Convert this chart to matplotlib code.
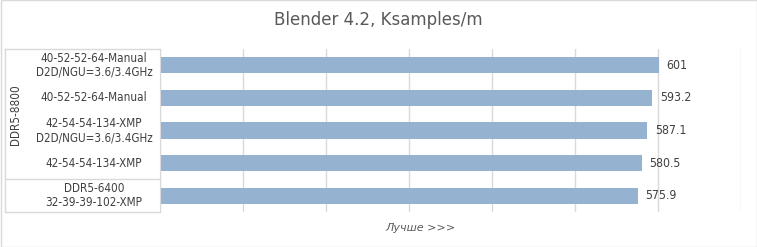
import numpy as np
import matplotlib.pyplot as plt
from matplotlib.patches import Rectangle

plt.rcParams['font.family'] = ['DejaVu Sans']

# top to bottom
labels = ["40-52-52-64-Manual\nD2D/NGU=3.6/3.4GHz",
          "40-52-52-64-Manual",
          "42-54-54-134-XMP\nD2D/NGU=3.6/3.4GHz",
          "42-54-54-134-XMP",
          "DDR5-6400\n32-39-39-102-XMP"]
values = [601, 593.2, 587.1, 580.5, 575.9]
value_text = ["601", "593.2", "587.1", "580.5", "575.9"]
groups = [("DDR5-8800", 0, 3)]

BAR = "#95b3d0"
GRID = "#d9d9d9"
TXT = "#404040"

W, H = 757, 247
fig = plt.figure(figsize=(W / 100, H / 100), dpi=100)
ax = fig.add_axes([160 / W, 1 - 212 / H, 581 / W, 163 / H])

y = np.arange(len(values))
ax.barh(y, values, height=0.5, color=BAR, zorder=2)
ax.set_xlim(0, 700)
ax.set_ylim(len(values) - 0.5, -0.5)
ax.set_xticks(np.arange(0, 701, 100))
ax.set_xticklabels([])
ax.set_yticks([])
ax.tick_params(length=0)
ax.grid(axis="x", color=GRID, lw=1, zorder=0)
for s in ["top", "right", "bottom"]:
    ax.spines[s].set_visible(False)
ax.spines["left"].set_color(GRID)

for yi, v, t in zip(y, values, value_text):
    ax.text(v + 9, yi, t, va="center", ha="left", fontsize=8.8,
            color=TXT, fontstretch="condensed")

tr = ax.get_yaxis_transform()
lx = (94 - 160) / 581
for yi, lab in zip(y, labels):
    ax.text(lx, yi, lab, transform=tr, ha="center", va="center",
            fontsize=8.4, color=TXT, linespacing=1.1, fontstretch="condensed")

left = (5 - 160) / 581
gx = (16 - 160) / 581
for name, a, b in groups:
    ax.text(gx, (a + b) / 2, name, transform=tr, rotation=90,
            ha="center", va="center", fontsize=8.4, color=TXT,
            fontstretch="condensed")

kw = dict(transform=tr, color=GRID, lw=1, clip_on=False)
ax.plot([left, 0], [-0.5, -0.5], **kw)
ax.plot([left, 0], [3.5, 3.5], **kw)
ax.plot([left, 0], [4.5, 4.5], **kw)
ax.plot([left, left], [-0.5, 4.5], **kw)

fig.text(0.5, 1 - 20 / H, "Blender 4.2, Ksamples/m", ha="center", va="center",
         fontsize=12, color="#595959")
fig.text(420 / W, 1 - 228 / H, "Лучше >>>", ha="center", va="center",
         fontsize=8, style="italic", color="#595959")

fig.add_artist(Rectangle((0.5 / W, 0.5 / H), 1 - 1 / W, 1 - 1 / H,
                         transform=fig.transFigure, fill=False,
                         edgecolor=GRID, lw=1))

fig.savefig("out.png", dpi=100)
